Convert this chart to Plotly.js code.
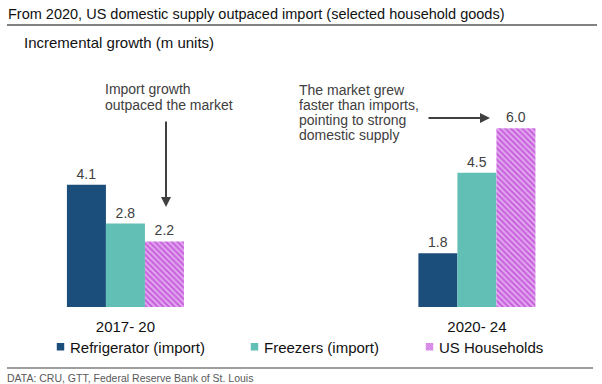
<!DOCTYPE html>
<html>
<head>
<meta charset="utf-8">
<script src="https://cdn.plot.ly/plotly-3.0.1.min.js"></script>
<style>
  html, body { margin: 0; padding: 0; background: #fff; }
  #chart { width: 602px; height: 384px; }
</style>
</head>
<body>
<div id="chart"></div>
<script>
// ---- data ----
var periods = ['2017- 20', '2020- 24'];
var refrigeratorImport = [4.1, 1.8];
var freezersImport = [2.8, 4.5];
var usHouseholds = [2.2, 6.0];
var seriesNames = ['Refrigerator (import)', 'Freezers (import)', 'US Households'];

var FONT = 'Liberation Sans, Arial, sans-serif';
var L = 20, R = 20, T = 90, B = 77, W = 602, H = 384;
var PW = W - L - R, PH = H - T - B;
function px(x) { return (x - L) / PW; }
function py(y) { return (H - B - y) / PH; }

var textStyle = { family: FONT, size: 14, color: '#404040' };

var traces = [
  {
    type: 'bar', name: seriesNames[0], x: periods, y: refrigeratorImport,
    marker: { color: '#1c4e7b' },
    texttemplate: '%{y:.1f}', textposition: 'outside', textfont: textStyle,
    cliponaxis: false, legend: 'legend', hoverinfo: 'skip'
  },
  {
    type: 'bar', name: seriesNames[1], x: periods, y: freezersImport,
    marker: { color: '#62bfb6' },
    texttemplate: '%{y:.1f}', textposition: 'outside', textfont: textStyle,
    cliponaxis: false, legend: 'legend2', hoverinfo: 'skip'
  },
  {
    type: 'bar', name: seriesNames[2], x: periods, y: usHouseholds,
    marker: { color: '#e2a4f0', pattern: { shape: '\\', fgcolor: '#c45ad9', bgcolor: '#e2a4f0', size: 4, solidity: 0.45, fillmode: 'replace' } },
    texttemplate: '%{y:.1f}', textposition: 'outside', textfont: textStyle,
    cliponaxis: false, legend: 'legend3', hoverinfo: 'skip'
  }
];

function legendAt(xpx) {
  return {
    x: px(xpx), y: py(347), xanchor: 'left', yanchor: 'middle',
    orientation: 'h', bgcolor: 'rgba(0,0,0,0)', borderwidth: 0,
    font: { family: FONT, size: 15, color: '#111' }
  };
}

var layout = {
  width: W, height: H,
  margin: { l: L, r: R, t: T, b: B, pad: 0 },
  paper_bgcolor: '#fff', plot_bgcolor: '#fff',
  font: { family: FONT, size: 14, color: '#111' },
  barmode: 'group', bargap: 0.667, bargroupgap: 0,
  showlegend: true,
  legend: legendAt(30),
  legend2: legendAt(224),
  legend3: legendAt(399),
  xaxis: {
    type: 'category', range: [-0.300, 1.299], fixedrange: true,
    showgrid: false, zeroline: false, showline: false, ticks: '',
    ticklabelstandoff: 9,
    tickfont: { family: FONT, size: 15, color: '#111' }
  },
  yaxis: {
    range: [0, 7.28], visible: false, showgrid: false, zeroline: false, fixedrange: true
  },
  shapes: [
    { type: 'line', xref: 'paper', yref: 'paper', x0: px(7), x1: px(597), y0: py(25), y1: py(25), line: { color: '#595959', width: 1.5 } },
    { type: 'line', xref: 'paper', yref: 'paper', x0: px(7), x1: px(593), y0: py(368), y1: py(368), line: { color: '#7f7f7f', width: 1.5 } }
  ],
  annotations: [
    { xref: 'paper', yref: 'paper', x: px(6), y: py(14), xanchor: 'left', yanchor: 'middle', showarrow: false,
      text: 'From 2020, US domestic supply outpaced import (selected household goods)', font: { family: FONT, size: 14.5, color: '#111' } },
    { xref: 'paper', yref: 'paper', x: px(22), y: py(43), xanchor: 'left', yanchor: 'middle', showarrow: false,
      text: 'Incremental growth (m units)', font: { family: FONT, size: 15, color: '#111' } },
    { xref: 'paper', yref: 'paper', x: px(103), y: py(89), xanchor: 'left', yanchor: 'middle', showarrow: false,
      text: 'Import growth', font: textStyle },
    { xref: 'paper', yref: 'paper', x: px(103), y: py(105), xanchor: 'left', yanchor: 'middle', showarrow: false,
      text: 'outpaced the market', font: textStyle },
    { xref: 'paper', yref: 'paper', x: px(297), y: py(90), xanchor: 'left', yanchor: 'middle', showarrow: false,
      text: 'The market grew', font: textStyle },
    { xref: 'paper', yref: 'paper', x: px(297), y: py(105), xanchor: 'left', yanchor: 'middle', showarrow: false,
      text: 'faster than imports,', font: textStyle },
    { xref: 'paper', yref: 'paper', x: px(297), y: py(120), xanchor: 'left', yanchor: 'middle', showarrow: false,
      text: 'pointing to strong', font: textStyle },
    { xref: 'paper', yref: 'paper', x: px(297), y: py(135), xanchor: 'left', yanchor: 'middle', showarrow: false,
      text: 'domestic supply', font: textStyle },
    { xref: 'paper', yref: 'paper', x: px(166), y: py(207), ax: 0, ay: -87, text: '', showarrow: true,
      arrowhead: 2, arrowsize: 1, arrowwidth: 2, arrowcolor: '#404040' },
    { xref: 'paper', yref: 'paper', x: px(490), y: py(118), ax: -63, ay: 0, text: '', showarrow: true,
      arrowhead: 2, arrowsize: 1, arrowwidth: 2, arrowcolor: '#404040' },
    { xref: 'paper', yref: 'paper', x: px(5), y: py(378), xanchor: 'left', yanchor: 'middle', showarrow: false,
      text: 'DATA: CRU, GTT, Federal Reserve Bank of St. Louis', font: { family: FONT, size: 10.5, color: '#595959' } }
  ]
};

Plotly.newPlot('chart', traces, layout, { staticPlot: true, displayModeBar: false }).then(function () {
  document.querySelectorAll('.legendpoints path').forEach(function (p) {
    p.setAttribute('transform', 'translate(30.5,0) scale(0.62)');
  });
});
</script>
</body>
</html>
